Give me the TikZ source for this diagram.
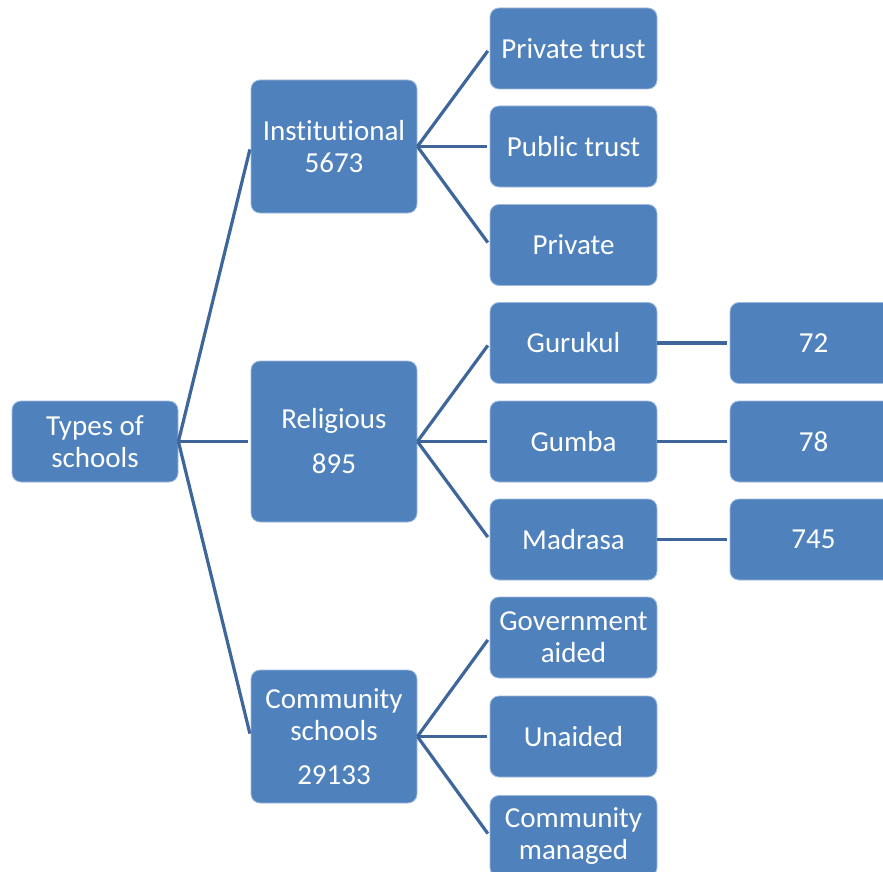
\documentclass[tikz,border=0pt]{standalone}
\usepackage{fontspec}
\setmainfont{Carlito}[Ligatures=NoCommon]
\usepackage{tikz}
\usetikzlibrary{positioning}
\definecolor{boxblue}{RGB}{79,129,189}
\definecolor{boxedge}{RGB}{160,186,222}
\definecolor{linkblue}{RGB}{62,102,154}

\begin{document}
\begin{tikzpicture}[x=1pt,y=-1pt,
  box/.style={draw=boxedge,line width=0.8pt,fill=boxblue,rounded corners=9pt,text=white,align=center,inner sep=0pt,font=\fontsize{29}{32}\selectfont},
  leaf/.style={box,minimum width=167pt,minimum height=81pt},
  mid/.style={box,minimum width=166pt,minimum height=133pt},
  link/.style={draw=linkblue,line width=3.2pt,shorten >=3pt}]
\useasboundingbox (0,0) rectangle (883,872);
\clip (0,0) rectangle (883,872);
\node[leaf,minimum width=166pt] (types) at (95,441.5) {Types of\\schools};
\node[mid] (inst) at (334,146.5) {Inst\kern0pt itut\kern0pt ional\\5673};
\node[mid,minimum height=161pt] (relig) at (334,441.5) {Religious\\[13pt]895};
\node[mid] (comm) at (334,736.5) {Community\\schools\\[12pt]29133};
\node[leaf] (ptrust) at (573.5,48.5) {Private trust};
\node[leaf] (pubtrust) at (573.5,146.5) {Public trust};
\node[leaf] (private) at (573.5,245) {Private};
\node[leaf] (gurukul) at (573.5,343) {Gurukul};
\node[leaf] (gumba) at (573.5,441.5) {Gumba};
\node[leaf] (madrasa) at (573.5,539.5) {Madrasa};
\node[leaf] (govaided) at (573.5,637.5) {Government\\aided};
\node[leaf] (unaided) at (573.5,736.5) {Unaided};
\node[leaf] (commman) at (573.5,836) {Community\\managed};
\node[leaf] (gurukulno) at (813.5,343) {72};
\node[leaf] (gumbano) at (813.5,441.5) {78};
\node[leaf] (madrasano) at (813.5,539.5) {745};
\draw[link] (types.east) -- (inst.west);
\draw[link] (types.east) -- (relig.west);
\draw[link] (types.east) -- (comm.west);
\draw[link] (inst.east) -- (ptrust.west);
\draw[link] (inst.east) -- (pubtrust.west);
\draw[link] (inst.east) -- (private.west);
\draw[link] (relig.east) -- (gurukul.west);
\draw[link] (relig.east) -- (gumba.west);
\draw[link] (relig.east) -- (madrasa.west);
\draw[link] (comm.east) -- (govaided.west);
\draw[link] (comm.east) -- (unaided.west);
\draw[link] (comm.east) -- (commman.west);
\draw[link] (gurukul.east) -- (gurukulno.west);
\draw[link] (gumba.east) -- (gumbano.west);
\draw[link] (madrasa.east) -- (madrasano.west);
\end{tikzpicture}
\end{document}
